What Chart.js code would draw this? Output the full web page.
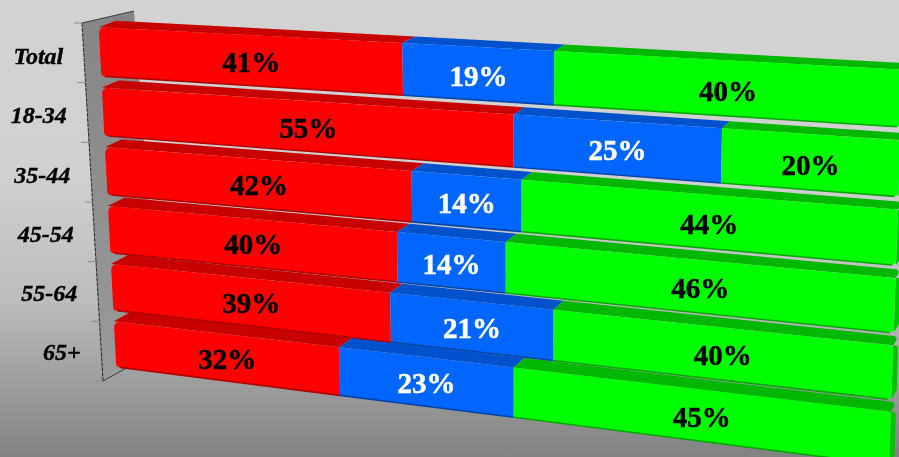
<!DOCTYPE html>
<html><head><meta charset="utf-8">
<style>
html,body{margin:0;padding:0;width:899px;height:457px;overflow:hidden;background:#d2d2d2}
#wrap{position:relative;width:899px;height:457px;background:linear-gradient(180deg,#d2d2d2 0%,#d1d1d1 38%,#bcbcbc 66%,#828282 100%)}
</style>
<script src="https://cdn.jsdelivr.net/npm/chart.js@4/dist/chart.umd.min.js"></script>
</head><body><div id="wrap"><canvas id="c" width="899" height="457"></canvas></div>
<script>
const categories=["Total","18-34","35-44","45-54","55-64","65+"];
const firstSeries=[41,55,42,40,39,32];
const secondSeries=[19,25,14,14,21,23];
const thirdSeries=[40,20,44,46,40,45];
const faceColors=["#ff0000","#0066ff","#00ff00"];
const topColors=["#c80000","#0052cc","#00b800"];
const edgeColors=["#b00000","#0044aa","#00a800"];
const capColors=["#c80000","#0052cc","#00c400"];
const labelColors=["#000000","#ffffff","#000000"];

const Q=[[98.5,21.5],[903,63],[889,471],[116.5,372.5]];
const AX=[[82,23],[103,381]];
function solve(q){
  const [x0,y0]=q[0],[x1,y1]=q[1],[x2,y2]=q[2],[x3,y3]=q[3];
  const dx1=x1-x2,dx2=x3-x2,sx=x0-x1+x2-x3,dy1=y1-y2,dy2=y3-y2,sy=y0-y1+y2-y3;
  const den=dx1*dy2-dx2*dy1,g=(sx*dy2-dx2*sy)/den,h=(dx1*sy-sx*dy1)/den;
  return {a:x1-x0+g*x1,b:x3-x0+h*x3,c:x0,d:y1-y0+g*y1,e:y3-y0+h*y3,f:y0,g,h};
}
const H=solve(Q);
function roundPoly(ctx,pts,rad){
  ctx.beginPath();
  const n=pts.length;
  const s=[(pts[0][0]+pts[n-1][0])/2,(pts[0][1]+pts[n-1][1])/2];
  ctx.moveTo(s[0],s[1]);
  for(let i=0;i<n;i++){const p=pts[i],q=pts[(i+1)%n];ctx.arcTo(p[0],p[1],q[0],q[1],rad[i]||0.01);}
  ctx.closePath();
}
const perspective={
  id:'perspective',
  beforeDatasetsDraw(chart){
    const ctx=chart.ctx,ca=chart.chartArea;
    const map=(px,py)=>{const s=(px-ca.left)/(ca.right-ca.left),t=(py-ca.top)/(ca.bottom-ca.top),w=H.g*s+H.h*t+1;
      return [(H.a*s+H.b*t+H.c)/w+(5-3*t)*4*s*(1-s),(H.d*s+H.e*t+H.f)/w];};
    const yS=chart.scales.y;
    const n=categories.length;
    const ax=f=>[AX[0][0]+(AX[1][0]-AX[0][0])*f,AX[0][1]+(AX[1][1]-AX[0][1])*f];
    // wall
    const g=ctx.createLinearGradient(0,10,0,380);g.addColorStop(0,'#858585');g.addColorStop(1,'#9a9a9a');
    ctx.fillStyle=g;ctx.beginPath();ctx.moveTo(82,23);ctx.lineTo(134,11);ctx.lineTo(160,350);ctx.lineTo(103,381);ctx.closePath();ctx.fill();
    ctx.strokeStyle='#3a3a3a';ctx.lineWidth=1;ctx.beginPath();ctx.moveTo(82,23);ctx.lineTo(134,11);ctx.stroke();
    ctx.beginPath();ctx.moveTo(103,381);ctx.lineTo(130,366);ctx.stroke();
    ctx.strokeStyle='#222';ctx.setLineDash([4,1]);ctx.beginPath();ctx.moveTo(82,23);ctx.lineTo(103,381);ctx.stroke();ctx.setLineDash([]);
    ctx.strokeStyle='#8a8a8a';
    for(let i=0;i<=n;i++){const p=ax(i/n);ctx.beginPath();ctx.moveTo(p[0]-8,p[1]);ctx.lineTo(p[0],p[1]);ctx.stroke();}
    // tick labels from the category scale
    ctx.font='italic bold 24px "Liberation Serif"';ctx.fillStyle='#000';ctx.strokeStyle='#000';ctx.lineWidth=0.4;ctx.textAlign='right';ctx.textBaseline='middle';
    categories.forEach((c,i)=>{const f=(yS.getPixelForValue(i)-ca.top)/(ca.bottom-ca.top),p=ax(f);
      const lx=p[0]-20.5,ly=p[1]+5.3-2.5*f;
      ctx.fillText(yS.getLabelForValue(i),lx,ly);ctx.strokeText(yS.getLabelForValue(i),lx,ly);});
    // bars, lowest row first
    const metas=[0,1,2].map(d=>chart.getDatasetMeta(d));
    const texts=[];
    for(let r=n-1;r>=0;r--){
      for(let d=0;d<3;d++){
        const el=metas[d].data[r],top=el.y-el.height/2,bot=el.y+el.height/2,l=Math.min(el.base,el.x),rt=Math.max(el.base,el.x);
        const tl=map(l,top),tr=map(rt,top),br=map(rt,bot),bl=map(l,bot);
        const sh=p=>{const s=(p[0]-Q[0][0])/(Q[1][0]-Q[0][0]);return [p[0]+17-12*s,p[1]-(6.5+0.6*r)];};
        const btl=sh(tl),btr=sh(tr);
        ctx.fillStyle=topColors[d];
        roundPoly(ctx,[tl,btl,btr,tr],[0,d===0?4:0,d===2?3:0,0]);ctx.fill();
        if(d===2){ctx.fillStyle=capColors[d];const bbr=sh(br);
          roundPoly(ctx,[tr,btr,bbr,br],[0,3,3,0]);ctx.fill();}
        ctx.fillStyle=faceColors[d];
        roundPoly(ctx,[tl,tr,br,bl],[d===0?5:0,d===2?4:0,d===2?4:0,d===0?4:0]);ctx.fill();
        ctx.strokeStyle=edgeColors[d];ctx.lineWidth=1.6;ctx.beginPath();
        ctx.moveTo(bl[0]+(d===0?4:0),bl[1]+0.2);ctx.lineTo(br[0]-(d===2?4:0),br[1]-(d===2?0.3:0)+0.2);ctx.stroke();
        const cx=(tl[0]+tr[0]+br[0]+bl[0])/4,cy=(tl[1]+tr[1]+br[1]+bl[1])/4,sf=(cx-Q[0][0])/(Q[1][0]-Q[0][0]);
        texts.push({x:cx,y:cy+3.5+sf*(2.5-2*r/(n-1)),
          s:chart.data.datasets[d].data[r]+'%',c:labelColors[d]});
      }
    }
    ctx.font='bold 29px "Liberation Serif"';ctx.textAlign='center';ctx.textBaseline='middle';ctx.lineWidth=0.5;
    texts.forEach(t=>{ctx.fillStyle=t.c;ctx.strokeStyle=t.c;ctx.fillText(t.s,t.x,t.y);ctx.strokeText(t.s,t.x,t.y);});
    return false;
  }
};
new Chart(document.getElementById('c'),{
  type:'bar',
  data:{labels:categories,datasets:[
    {label:'Series 1',data:firstSeries,backgroundColor:faceColors[0]},
    {label:'Series 2',data:secondSeries,backgroundColor:faceColors[1]},
    {label:'Series 3',data:thirdSeries,backgroundColor:faceColors[2]}]},
  plugins:[perspective],
  options:{indexAxis:'y',responsive:false,animation:false,events:[],
    layout:{padding:0},
    datasets:{bar:{categoryPercentage:1,barPercentage:0.81}},
    plugins:{legend:{display:false},tooltip:{enabled:false},title:{display:false}},
    scales:{x:{stacked:true,min:0,max:100,display:false},y:{stacked:true,display:false}}}
});
</script></body></html>
